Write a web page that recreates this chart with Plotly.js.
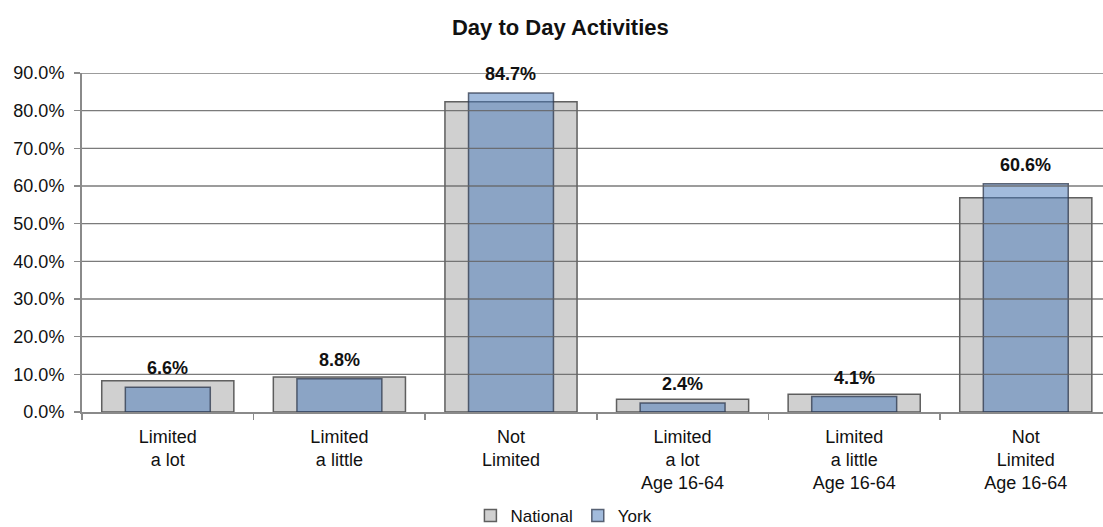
<!DOCTYPE html>
<html>
<head>
<meta charset="utf-8">
<script src="https://cdn.plot.ly/plotly-3.0.1.min.js"></script>
<style>html,body{margin:0;padding:0;background:#fff;}#chart{width:1103px;height:527px;}</style>
</head>
<body>
<div id="chart"></div>
<script>
const categories = [
  "Limited<br>a lot",
  "Limited<br>a little",
  "Not<br>Limited",
  "Limited<br>a lot<br>Age 16-64",
  "Limited<br>a little<br>Age 16-64",
  "Not<br>Limited<br>Age 16-64"
];
const nationalValues = [8.3, 9.3, 82.4, 3.4, 4.7, 56.9];
const yorkValues = [6.6, 8.8, 84.7, 2.4, 4.1, 60.6];
const yTickValues = [0, 10, 20, 30, 40, 50, 60, 70, 80, 90];
const yTickLabels = yTickValues.map(v => v.toFixed(1) + "%");

const FONT = "Liberation Sans, Arial, sans-serif";

const traces = [
  {
    type: "bar", name: "National", x: categories, y: nationalValues,
    width: 0.77,
    marker: { color: "#d0d0d0", line: { color: "rgba(70,70,70,0.85)", width: 1.5 } },
    hoverinfo: "skip"
  },
  {
    type: "bar", name: "York", x: categories, y: yorkValues,
    width: 0.495,
    marker: { color: "rgba(70,120,185,0.5)", line: { color: "rgba(45,55,75,0.75)", width: 1.5 } },
    hoverinfo: "skip"
  }
];

const gridShapes = yTickValues.filter(v => v > 0).map(v => ({
  type: "line", xref: "paper", yref: "y", x0: 0, x1: 1, y0: v, y1: v,
  layer: "above", line: { color: "rgba(100,100,100,0.85)", width: 1.3 }
}));

const labelAnnotations = categories.map((c, i) => ({
  x: c, y: yorkValues[i], xref: "x", yref: "y",
  text: "<b>" + yorkValues[i].toFixed(1) + "%</b>",
  showarrow: false, yanchor: "bottom", yshift: 7,
  font: { family: FONT, size: 18, color: "#111" }
}));

const layout = {
  width: 1103, height: 527,
  margin: { l: 82, r: 0, t: 73, b: 115, pad: 0, autoexpand: false },
  paper_bgcolor: "#fff", plot_bgcolor: "#fff",
  barmode: "overlay",
  font: { family: FONT, size: 18, color: "#111" },
  title: {
    text: "<b>Day to Day Activities</b>",
    font: { family: FONT, size: 22, color: "#111" },
    xref: "container", x: 0.508, xanchor: "center",
    yref: "container", y: 0.949, yanchor: "middle"
  },
  xaxis: {
    type: "category",
    range: [-0.5, 5.45],
    showgrid: false, zeroline: false,
    showline: true, linecolor: "#8a8a8a", linewidth: 2,
    ticks: "outside", tickson: "boundaries", ticklen: 6, tickcolor: "#8a8a8a", tickwidth: 1.5,
    ticklabelstandoff: 7,
    tickfont: { family: FONT, size: 18, color: "#111" },
    fixedrange: true
  },
  yaxis: {
    range: [0, 90],
    tickvals: yTickValues, ticktext: yTickLabels,
    showgrid: false, zeroline: false,
    showline: true, linecolor: "#8a8a8a", linewidth: 2,
    ticks: "outside", ticklen: 6, tickcolor: "#8a8a8a", tickwidth: 1.5,
    ticklabelstandoff: 6,
    tickfont: { family: FONT, size: 18, color: "#111" },
    fixedrange: true
  },
  shapes: gridShapes,
  annotations: labelAnnotations,
  showlegend: true,
  legend: {
    orientation: "h", x: 0.472, xanchor: "center",
    yref: "container", y: 0.021, yanchor: "middle",
    font: { family: FONT, size: 17, color: "#111" },
    itemwidth: 30, tracegroupgap: 0, bgcolor: "rgba(0,0,0,0)"
  }
};

Plotly.newPlot("chart", traces, layout, { displayModeBar: false, staticPlot: true });
</script>
</body>
</html>
